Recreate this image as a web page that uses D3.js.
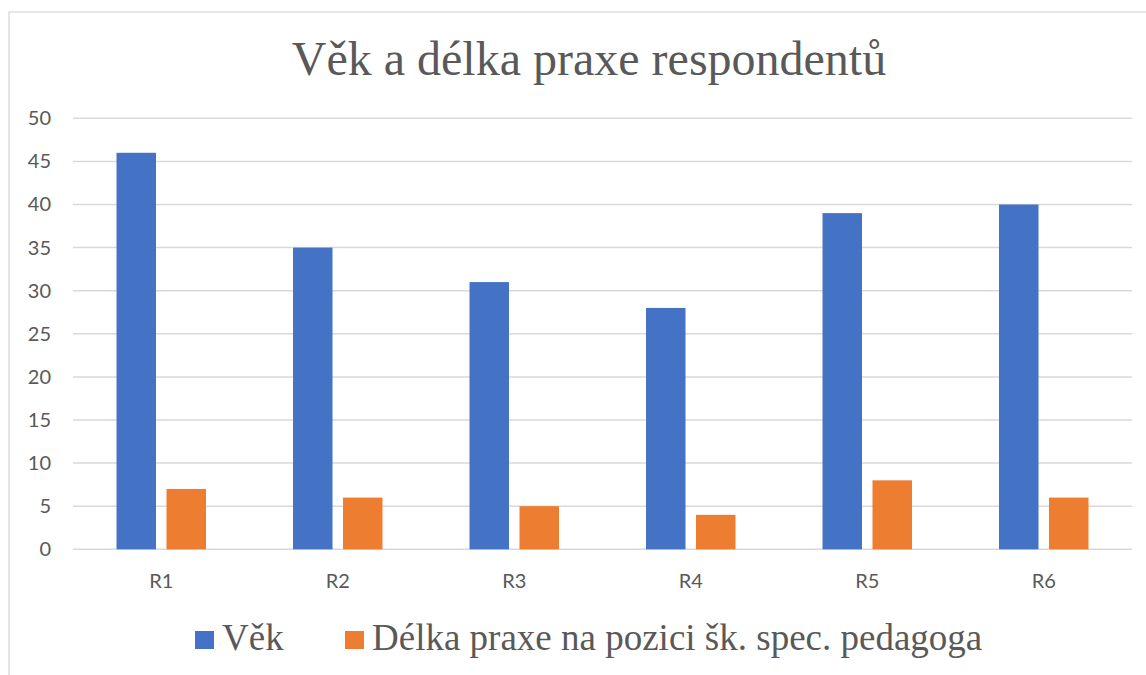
<!DOCTYPE html>
<html><head><meta charset="utf-8">
<script src="https://cdn.jsdelivr.net/npm/d3@7"></script>
<style>html,body{margin:0;padding:0;background:#fff;overflow:hidden}</style>
</head><body>
<svg id="c" width="1146" height="675"></svg>
<script>
const categories = ["R1","R2","R3","R4","R5","R6"];
const seriesNames = ["Věk","Délka praxe na pozici šk. spec. pedagoga"];
const vek = [46,35,31,28,39,40];
const delka = [7,6,5,4,8,6];
const yTicks = [0,5,10,15,20,25,30,35,40,45,50];
const title = "Věk a délka praxe respondentů";
const colors = ["#4472C4","#ED7D31"];

const svg = d3.select("#c");
svg.append("rect").attr("x",9).attr("y",12).attr("width",1160).attr("height",700)
  .attr("fill","#fff").attr("stroke","#d9d9d9").attr("stroke-width",1.3);

const x = d3.scaleBand().domain(categories).range([73,1132]).padding(0);
const y = d3.scaleLinear().domain([0,50]).range([549.3,118.3]);
const bw = x.bandwidth();
const groupW = bw*0.507;
const xs = d3.scaleBand().domain(seriesNames).range([(bw-groupW)/2,(bw+groupW)/2]).paddingInner(0.21).paddingOuter(0);

// gridlines
svg.append("g").selectAll("line").data(yTicks).join("line")
  .attr("x1",73).attr("x2",1132).attr("y1",d=>y(d)).attr("y2",d=>y(d))
  .attr("stroke","#d9d9d9").attr("stroke-width",1.5);

// y labels
const yAxis = d3.axisLeft(y).tickValues(yTicks).tickSize(0).tickPadding(0);
const ga = svg.append("g").attr("transform","translate(51,0)").call(yAxis);
ga.select(".domain").remove();
ga.selectAll("text").attr("font-family","Lato, 'Open Sans', sans-serif").attr("font-size",20).attr("fill","#595959");

// bars
const data = categories.map((c,i)=>({c, vals:[vek[i],delka[i]]}));
const g = svg.append("g");
data.forEach(d=>{
  d.vals.forEach((v,j)=>{
    g.append("rect")
      .attr("x",x(d.c)+xs(seriesNames[j]))
      .attr("width",xs.bandwidth())
      .attr("y",y(v)).attr("height",y(0)-y(v))
      .attr("fill",colors[j]);
  });
});

// x labels
const xAxis = d3.axisBottom(x).tickSize(0).tickPadding(0);
const gx = svg.append("g").attr("transform","translate(0,570)").call(xAxis);
gx.select(".domain").remove();
gx.selectAll("text").attr("dy",null).attr("dominant-baseline","auto").attr("y",18)
  .attr("font-family","Lato, 'Open Sans', sans-serif").attr("font-size",20).attr("fill","#595959");

// title
svg.append("text").attr("x",589).attr("y",75).attr("text-anchor","middle")
  .attr("font-family","'Liberation Serif', 'Times New Roman', serif").attr("font-size",48)
  .attr("fill","#595959").text(title);

// legend
const legX = [195,345];
seriesNames.forEach((s,j)=>{
  svg.append("rect").attr("x",legX[j]).attr("y",631).attr("width",19).attr("height",18).attr("fill",colors[j]);
  svg.append("text").attr("x",legX[j]+27).attr("y",650)
    .attr("font-family","'Liberation Serif', 'Times New Roman', serif").attr("font-size",37)
    .attr("fill","#595959").text(s);
});
</script>
</body></html>
